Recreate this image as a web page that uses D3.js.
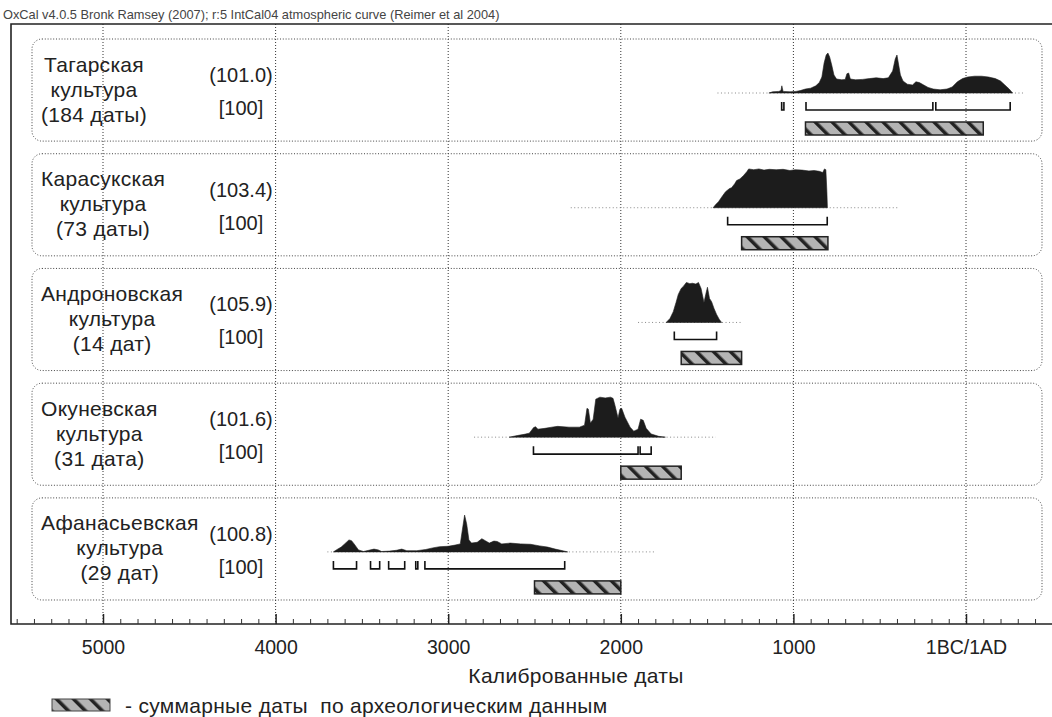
<!DOCTYPE html>
<meta charset="utf-8">
<script src="https://d3js.org/d3.v7.min.js"></script>
<style>
  body { margin: 0; background: #fff; }
  svg { font-family: "Liberation Sans", Arial, sans-serif; }
</style>
<div id="chart"></div>
<script>
// cultures, top to bottom
const cultures = ["Тагарская", "Карасукская", "Андроновская", "Окуневская", "Афанасьевская"];
const dateCounts = ["(184 даты)", "(73 даты)", "(14 дат)", "(31 дата)", "(29 дат)"];
const agreement = ["(101.0)", "(103.4)", "(105.9)", "(101.6)", "(100.8)"];
const overall = ["[100]", "[100]", "[100]", "[100]", "[100]"];

// summed probability: [calendar year (negative = BC), relative height]
const tagarDist = [[-1142,0],[-1120,0.03],[-1085,0.04],[-1072,0.06],[-1067,0.18],[-1060,0.04],[-1020,0.03],[-985,0.04],[-960,0.06],[-930,0.1],[-900,0.12],[-870,0.18],[-850,0.26],[-835,0.4],[-822,0.75],[-810,0.95],[-800,1.0],[-790,0.9],[-778,0.7],[-765,0.45],[-750,0.35],[-720,0.33],[-700,0.34],[-690,0.48],[-680,0.5],[-670,0.35],[-640,0.33],[-600,0.34],[-560,0.36],[-520,0.38],[-480,0.36],[-450,0.38],[-425,0.55],[-410,0.85],[-400,0.95],[-392,0.75],[-380,0.45],[-365,0.3],[-340,0.22],[-310,0.2],[-290,0.28],[-270,0.26],[-245,0.2],[-220,0.14],[-190,0.1],[-150,0.08],[-110,0.1],[-80,0.15],[-50,0.28],[-20,0.36],[10,0.4],[50,0.42],[90,0.42],[130,0.4],[170,0.36],[200,0.3],[225,0.2],[250,0.1],[270,0]];
const karasukDist = [[-1465,0],[-1450,0.08],[-1434,0.15],[-1410,0.3],[-1393,0.4],[-1370,0.48],[-1358,0.5],[-1340,0.6],[-1329,0.68],[-1310,0.72],[-1290,0.8],[-1270,0.9],[-1259,0.97],[-1230,0.95],[-1200,0.97],[-1170,0.94],[-1140,0.96],[-1100,0.95],[-1060,0.96],[-1020,0.93],[-990,0.95],[-950,0.94],[-910,0.92],[-880,0.93],[-850,0.91],[-830,0.88],[-820,0.97],[-812,0.95],[-806,0.4],[-803,0]];
const andronovoDist = [[-1737,0],[-1715,0.1],[-1696,0.27],[-1680,0.5],[-1667,0.7],[-1650,0.85],[-1638,0.9],[-1620,1.0],[-1600,0.97],[-1585,0.98],[-1565,0.96],[-1550,1.0],[-1535,0.85],[-1518,0.5],[-1508,0.7],[-1498,0.88],[-1486,0.6],[-1474,0.52],[-1460,0.35],[-1445,0.2],[-1430,0.08],[-1416,0]];
const okunevDist = [[-2646,0],[-2600,0.04],[-2560,0.07],[-2530,0.1],[-2505,0.24],[-2494,0.26],[-2480,0.2],[-2440,0.22],[-2400,0.25],[-2366,0.27],[-2300,0.25],[-2240,0.25],[-2210,0.3],[-2196,0.72],[-2188,0.7],[-2176,0.35],[-2160,0.45],[-2145,0.95],[-2121,1.0],[-2090,0.98],[-2060,1.0],[-2045,0.97],[-2034,0.8],[-2016,0.48],[-2005,0.7],[-1995,0.72],[-1976,0.5],[-1946,0.25],[-1925,0.15],[-1900,0.2],[-1885,0.45],[-1870,0.42],[-1853,0.22],[-1824,0.08],[-1780,0.02],[-1742,0]];
const afanasievoDist = [[-3665,0],[-3648,0.05],[-3620,0.12],[-3600,0.2],[-3575,0.3],[-3560,0.28],[-3545,0.2],[-3520,0.05],[-3491,0.01],[-3460,0.04],[-3430,0.07],[-3405,0.05],[-3386,0.01],[-3340,0.02],[-3300,0.04],[-3269,0.07],[-3240,0.03],[-3182,0.03],[-3130,0.06],[-3090,0.1],[-3050,0.13],[-3000,0.14],[-2960,0.17],[-2930,0.2],[-2918,0.55],[-2905,0.92],[-2893,0.7],[-2880,0.3],[-2865,0.22],[-2832,0.24],[-2805,0.33],[-2785,0.28],[-2762,0.22],[-2735,0.27],[-2716,0.26],[-2690,0.2],[-2640,0.22],[-2580,0.2],[-2523,0.19],[-2470,0.15],[-2424,0.12],[-2380,0.07],[-2348,0.04],[-2308,0]];
const dists = [tagarDist, karasukDist, andronovoDist, okunevDist, afanasievoDist];

// extent of the faint dotted baseline round each distribution
const tails = [[-1440, 340], [-2290, -396], [-1900, -1300], [-2850, -1450], [-3700, -1800]];

// 95.4% ranges (brackets)
const ranges = [
  [[-1068, -1055], [-927, -192], [-175, 256]],
  [[-1381, -804]],
  [[-1690, -1445]],
  [[-2506, -1900], [-1888, -1824]],
  [[-3665, -3531], [-3450, -3397], [-3345, -3252], [-3188, -3176], [-3135, -2325]]
];

// summary dates from archaeological data (hatched bars)
const archDates = [[-930, 100], [-1300, -800], [-1650, -1300], [-2000, -1650], [-2500, -2000]];

const majorTicks = [-5000, -4000, -3000, -2000, -1000, 0];
const tickLabels = ["5000", "4000", "3000", "2000", "1000", "1BC/1AD"];

const W = 1052, H = 717;
const frameLeft = 11, frameTop = 24, axisY = 624;

const svg = d3.select("#chart").append("svg")
  .attr("width", W).attr("height", H);

const defs = svg.append("defs");
const hatch = defs.append("pattern")
  .attr("id", "hatch")
  .attr("patternUnits", "userSpaceOnUse")
  .attr("width", 12).attr("height", 12)
  .attr("patternTransform", "rotate(-45)");
hatch.append("rect").attr("width", 12).attr("height", 12).attr("fill", "#b4b4b4");
hatch.append("rect").attr("width", 3.5).attr("height", 12).attr("fill", "#222");

const x = d3.scaleLinear().domain([-5000, 0]).range([103, 966]);
const band = d3.scaleBand().domain(cultures).range([39, 600]).paddingInner(0.11);
const hgt = d3.scaleLinear().domain([0, 1]).range([0, 40]);

// header
svg.append("text")
  .attr("x", 3).attr("y", 19)
  .attr("font-size", 12.8).attr("fill", "#444")
  .text("OxCal v4.0.5 Bronk Ramsey (2007); r:5 IntCal04 atmospheric curve (Reimer et al 2004)");

// vertical grid
svg.append("g").selectAll("line")
  .data(majorTicks)
  .join("line")
  .attr("x1", d => x(d)).attr("x2", d => x(d))
  .attr("y1", frameTop).attr("y2", axisY)
  .attr("stroke", "#333").attr("stroke-width", 1)
  .attr("stroke-dasharray", "1,2");

// frame
svg.append("path")
  .attr("d", `M${W},${frameTop}H${frameLeft}V${axisY}H${W}`)
  .attr("fill", "none").attr("stroke", "#222").attr("stroke-width", 1.6);

// panels
const panel = svg.append("g").selectAll("g")
  .data(cultures)
  .join("g")
  .attr("transform", d => `translate(0,${band(d)})`);

panel.append("rect")
  .attr("x", 32).attr("y", 0)
  .attr("width", 1042 - 32).attr("height", band.bandwidth())
  .attr("rx", 10)
  .attr("fill", "none").attr("stroke", "#444").attr("stroke-width", 1)
  .attr("stroke-dasharray", "1,1.8");

const base = 54;

// dotted baseline tails
panel.append("line")
  .attr("x1", (d, i) => x(tails[i][0])).attr("x2", (d, i) => x(tails[i][1]))
  .attr("y1", base).attr("y2", base)
  .attr("stroke", "#888").attr("stroke-width", 1)
  .attr("stroke-dasharray", "1,2.5");

// distributions
const area = d3.area()
  .x(d => x(d[0]))
  .y0(base)
  .y1(d => base - hgt(d[1]));

panel.append("path")
  .attr("d", (d, i) => area(dists[i]))
  .attr("fill", "#1c1c1c").attr("stroke", "#1c1c1c").attr("stroke-width", 0.6);

// brackets
panel.each(function (d, i) {
  d3.select(this).append("g").selectAll("path")
    .data(ranges[i])
    .join("path")
    .attr("d", r => `M${x(r[0])},${base + 9}V${base + 17}H${x(r[1])}V${base + 9}`)
    .attr("fill", "none").attr("stroke", "#111").attr("stroke-width", 1.6);
});

// hatched archaeological bars
panel.append("rect")
  .attr("x", (d, i) => x(archDates[i][0]))
  .attr("width", (d, i) => x(archDates[i][1]) - x(archDates[i][0]))
  .attr("y", 83).attr("height", 13)
  .attr("fill", "url(#hatch)")
  .attr("stroke", "#222").attr("stroke-width", 1.5);

// labels
panel.each(function (d, i) {
  const g = d3.select(this);
  const lines = [d, "культура", dateCounts[i]];
  const t = g.selectAll("text.lab")
    .data(lines)
    .join("text")
    .attr("class", "lab")
    .attr("y", (l, j) => 25 + j * 25)
    .attr("dominant-baseline", "central")
    .attr("font-size", 21).attr("letter-spacing", 0.3).attr("fill", "#222")
    .text(l => l);
  let maxW = 0;
  t.each(function () { maxW = Math.max(maxW, this.getComputedTextLength()); });
  t.attr("x", 41 + maxW / 2).attr("text-anchor", "middle");

  g.append("text")
    .attr("x", 241).attr("y", 36)
    .attr("text-anchor", "middle").attr("dominant-baseline", "central")
    .attr("font-size", 20).attr("fill", "#222")
    .text(agreement[i]);
  g.append("text")
    .attr("x", 241).attr("y", 69)
    .attr("text-anchor", "middle").attr("dominant-baseline", "central")
    .attr("font-size", 20).attr("fill", "#222")
    .text(overall[i]);
});

// axis: minor ticks every 100 years
const axisG = svg.append("g").attr("transform", `translate(0,${axisY})`);
axisG.append("g")
  .call(d3.axisBottom(x)
    .tickValues(d3.range(-5500, 500, 100).filter(v => v % 1000 !== 0))
    .tickSize(-5).tickFormat(""))
  .call(g => g.select(".domain").remove())
  .selectAll("line").attr("stroke", "#333");

axisG.append("g")
  .call(d3.axisBottom(x)
    .tickValues(majorTicks)
    .tickSize(-10).tickPadding(16)
    .tickFormat((d, i) => tickLabels[i]))
  .call(g => g.select(".domain").remove())
  .call(g => g.selectAll("line").attr("stroke", "#222").attr("stroke-width", 1.5))
  .call(g => g.selectAll("text")
    .attr("font-size", 19.5).attr("fill", "#222")
    .attr("font-family", "Liberation Sans, Arial, sans-serif"));

svg.append("text")
  .attr("x", 576).attr("y", 675)
  .attr("text-anchor", "middle").attr("dominant-baseline", "central")
  .attr("font-size", 21).attr("letter-spacing", 0.3).attr("fill", "#222")
  .text("Калиброванные даты");

// legend
svg.append("rect")
  .attr("x", 52).attr("y", 699).attr("width", 58).attr("height", 12)
  .attr("fill", "url(#hatch)").attr("stroke", "#444").attr("stroke-width", 1);
svg.append("text")
  .attr("x", 125).attr("y", 705)
  .attr("dominant-baseline", "central")
  .attr("font-size", 21).attr("letter-spacing", 0.3).attr("fill", "#222")
  .text("- суммарные даты  по археологическим данным")
  .attr("xml:space", "preserve").style("white-space", "pre");
</script>
